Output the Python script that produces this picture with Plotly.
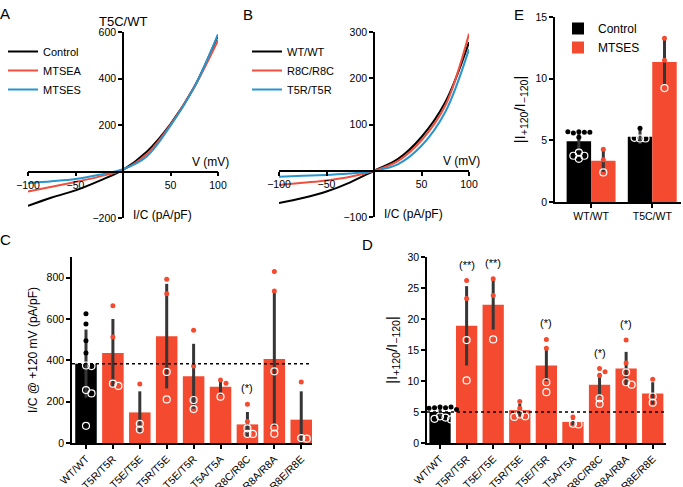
import plotly.graph_objects as go

W, H = 683, 487
RED = "#F44A2F"
LINE_RED = "#EE4F3E"
BLUE = "#2795CE"
BLACK = "#000000"
GREY = "#363636"
FONT = "Liberation Sans, Arial, sans-serif"

# ---------------- Panel A : T5C/WT I-V ----------------
volt = [-100, -75, -50, -25, 0, 25, 50, 75, 100]
a_control = [-148, -112, -81, -40, 7, 85, 204, 363, 585]
a_mtsea = [-86, -66, -45, -22, 7, 75, 201, 363, 564]
a_mtses = [-50, -42, -32, -14, 10, 65, 197, 363, 590]

# ---------------- Panel B : I-V ----------------
b_wt = [-70, -59, -45, -25, 0, 25, 73, 148, 278]
b_r8c = [-31, -26, -21, -13, 0, 21, 66, 141, 296]
b_t5r = [-13, -11, -9, -6, 0, 14, 54, 127, 263]

# ---------------- Panel C / D categories ----------------
cats = ["WT/WT", "T5R/T5R", "T5E/T5E", "T5R/T5E", "T5E/T5R",
        "T5A/T5A", "R8C/R8C", "R8A/R8A", "R8E/R8E"]

c_mean = [384, 435, 148, 517, 323, 272, 90, 406, 113]
c_sd = [165, 165, 102, 253, 157, 38, 60, 324, 137]
c_points = [
    [626, 576, 495, 435, 375, 372, 256, 240, 83],
    [664, 513, 287, 276],
    [286, 93, 65],
    [792, 722, 344, 211],
    [545, 373, 208, 164],
    [305, 289, 224],
    [188, 104, 71, 44, 44],
    [830, 735, 347, 75, 45],
    [295, 24, 21],
]
c_sig = ["", "", "", "", "", "", "(*)", "", ""]

d_mean = [5.0, 18.9, 22.3, 5.3, 12.5, 3.4, 9.4, 12.0, 8.0]
d_sd = [0.7, 6.4, 4.0, 1.0, 2.5, 0.5, 1.9, 2.7, 1.8]
d_points = [
    [5.8, 5.7, 5.7, 5.8, 5.6, 5.4, 4.3, 4.1, 3.9, 3.8],
    [26.2, 23.3, 16.6, 10.1],
    [26.5, 23.8, 16.7],
    [6.7, 5.6, 4.6, 4.3, 4.2],
    [16.7, 15.3, 9.8, 8.2],
    [4.2, 3.1, 3.0],
    [12.0, 11.5, 10.9, 7.2, 6.3],
    [16.6, 12.9, 11.4, 9.8, 9.4],
    [10.3, 7.5, 6.5],
]
d_sig = ["", "(**)", "(**)", "", "(*)", "", "(*)", "(*)", ""]

# ---------------- Panel E ----------------
e_cats = ["WT/WT", "T5C/WT"]
e_ctrl_mean = [4.92, 5.3]
e_ctrl_sd = [0.8, 0.6]
e_mtses_mean = [3.35, 11.35]
e_mtses_sd = [0.9, 1.9]
e_ctrl_points = [[5.7, 5.65, 5.6, 5.65, 5.7, 5.25, 4.0, 3.75, 3.75, 3.5],
                 [5.97, 5.15, 5.15, 5.2]]
e_mtses_points = [[4.27, 3.43, 2.4], [13.27, 11.5, 9.24]]


def xdom(p0, p1):
    return [p0 / W, p1 / W]


def ydom(top, bottom):
    return [1 - bottom / H, 1 - top / H]


def swarm(vals, ppu_y, ppu_x, sep=5.5):
    placed, offs = [], []
    for v in vals:
        y = v * ppu_y
        x = 0
        for k in [0, 1, -1, 2, -2, 3, -3, 4, -4]:
            x = k * sep
            if all((x - px) ** 2 + (y - py) ** 2 >= sep ** 2 for px, py in placed):
                break
        placed.append((x, y))
        offs.append(x / ppu_x)
    return offs


fig = go.Figure()

# ----- layout geometry -----
A_x, A_y = xdom(28, 218), ydom(32, 218)
B_x, B_y = xdom(279, 469), ydom(32, 217)
C_x, C_y = xdom(72, 312), ydom(257, 443)
D_x, D_y = xdom(427, 666), ydom(257, 443)
E_x, E_y = xdom(555, 681), ydom(17, 202)

A_xr, A_yr = [-100, 100], [-200, 600]
B_xr, B_yr = [-100, 100], [-100, 300]
C_xr, C_yr = [-0.52, 8.4], [0, 900]
D_xr, D_yr = [-0.49, 8.5], [0, 30]
E_xr, E_yr = [-0.59, 1.47], [0, 15]


def frac(v, r):
    return (v - r[0]) / (r[1] - r[0])


def pos(dom, r, v=0):
    return dom[0] + frac(v, r) * (dom[1] - dom[0])


# ----- IV traces -----
for name, ys, col in [("Control", a_control, BLACK), ("MTSEA", a_mtsea, LINE_RED),
                      ("MTSES", a_mtses, BLUE)]:
    fig.add_trace(go.Scatter(x=volt, y=ys, mode="lines", name=name,
                             line=dict(color=col, width=2, shape="spline", smoothing=1.0),
                             xaxis="x", yaxis="y", legend="legend"))
for name, ys, col in [("WT/WT", b_wt, BLACK), ("R8C/R8C", b_r8c, LINE_RED),
                      ("T5R/T5R", b_t5r, BLUE)]:
    fig.add_trace(go.Scatter(x=volt, y=ys, mode="lines", name=name,
                             line=dict(color=col, width=2, shape="spline", smoothing=1.0),
                             xaxis="x2", yaxis="y2", legend="legend2"))


def add_bar_panel(xa, ya, means, sds, points, xdomain, ydomain, xr, yr, colors):
    idx = list(range(len(means)))
    fig.add_trace(go.Bar(x=idx, y=means, marker=dict(color=colors, line=dict(width=0)),
                         error_y=dict(type="data", array=sds, color=GREY, thickness=3, width=0),
                         xaxis=xa, yaxis=ya, showlegend=False))
    ppu_y = (ydomain[1] - ydomain[0]) * H / (yr[1] - yr[0])
    ppu_x = (xdomain[1] - xdomain[0]) * W / (xr[1] - xr[0])
    for i, pts in enumerate(points):
        offs = swarm(pts, ppu_y, ppu_x)
        fx, fy, ox, oy = [], [], [], []
        for v, o in zip(pts, offs):
            if v > means[i]:
                fx.append(i + o); fy.append(v)
            else:
                ox.append(i + o); oy.append(v)
        fig.add_trace(go.Scatter(x=fx, y=fy, mode="markers", xaxis=xa, yaxis=ya,
                                 marker=dict(color=colors[i], size=5), showlegend=False))
        fig.add_trace(go.Scatter(x=ox, y=oy, mode="markers", xaxis=xa, yaxis=ya,
                                 marker=dict(symbol="circle-open", color="white", size=7,
                                             line=dict(width=1.2, color="white")),
                                 showlegend=False))


cd_colors = [BLACK] + [RED] * (len(cats) - 1)
add_bar_panel("x3", "y3", c_mean, c_sd, c_points, C_x, C_y, C_xr, C_yr, cd_colors)
add_bar_panel("x4", "y4", d_mean, d_sd, d_points, D_x, D_y, D_xr, D_yr, cd_colors)

# ----- Panel E grouped bars -----
e_idx = list(range(len(e_cats)))
ppu_yE = (E_y[1] - E_y[0]) * H / (E_yr[1] - E_yr[0])
ppu_xE = (E_x[1] - E_x[0]) * W / (E_xr[1] - E_xr[0])
for name, means, sds, pts_all, col, shift in [
        ("Control", e_ctrl_mean, e_ctrl_sd, e_ctrl_points, BLACK, -0.2),
        ("MTSES", e_mtses_mean, e_mtses_sd, e_mtses_points, RED, 0.2)]:
    fig.add_trace(go.Bar(x=e_idx, y=means, name=name, marker=dict(color=col, line=dict(width=0)),
                         error_y=dict(type="data", array=sds, color=GREY, thickness=3, width=0),
                         xaxis="x5", yaxis="y5", legend="legend3"))
    for i, pts in enumerate(pts_all):
        offs = swarm(pts, ppu_yE, ppu_xE)
        fx, fy, ox, oy = [], [], [], []
        for v, o in zip(pts, offs):
            if v > means[i]:
                fx.append(i + shift + o); fy.append(v)
            else:
                ox.append(i + shift + o); oy.append(v)
        fig.add_trace(go.Scatter(x=fx, y=fy, mode="markers", xaxis="x5", yaxis="y5",
                                 marker=dict(color=col, size=5), showlegend=False))
        fig.add_trace(go.Scatter(x=ox, y=oy, mode="markers", xaxis="x5", yaxis="y5",
                                 marker=dict(symbol="circle-open", color="white", size=7,
                                             line=dict(width=1.2, color="white")),
                                 showlegend=False))

tickfont = dict(family=FONT, size=10.5, color="black")
common = dict(showgrid=False, zeroline=False, showline=True, linecolor="black", linewidth=1.5,
              ticks="outside", ticklen=4, tickwidth=1.5, tickcolor="black", tickfont=tickfont,
              automargin=False)
cat_tickfont = dict(family=FONT, size=10.5, color="black")
legfont = dict(family=FONT, size=11, color="black")

layout = dict(
    width=W, height=H, margin=dict(l=0, r=0, t=0, b=0, autoexpand=False),
    paper_bgcolor="white", plot_bgcolor="rgba(0,0,0,0)",
    font=dict(family=FONT, size=12, color="black"),
    barmode="group", bargap=0.2, bargroupgap=0,
    xaxis=dict(domain=A_x, range=A_xr, anchor="free", position=pos(A_y, A_yr),
               tickvals=[-100, -50, 50, 100], **common),
    yaxis=dict(domain=A_y, range=A_yr, anchor="free", position=pos(A_x, A_xr),
               tickvals=[-200, 200, 400, 600], **common),
    xaxis2=dict(domain=B_x, range=B_xr, anchor="free", position=pos(B_y, B_yr),
                tickvals=[-100, -50, 50, 100], **common),
    yaxis2=dict(domain=B_y, range=B_yr, anchor="free", position=pos(B_x, B_xr),
                tickvals=[-100, 100, 200, 300], **common),
    xaxis3=dict(domain=C_x, range=C_xr, anchor="y3", tickvals=list(range(len(cats))),
                ticktext=cats, tickangle=-45, **{**common, "tickfont": cat_tickfont}),
    yaxis3=dict(domain=C_y, range=C_yr, anchor="x3", tickvals=[0, 200, 400, 600, 800],
                title=dict(text="I/C @ +120 mV (pA/pF)", font=dict(size=12), standoff=6),
                **common),
    xaxis4=dict(domain=D_x, range=D_xr, anchor="y4", tickvals=list(range(len(cats))),
                ticktext=cats, tickangle=-45, **{**common, "tickfont": cat_tickfont}),
    yaxis4=dict(domain=D_y, range=D_yr, anchor="x4", tickvals=[0, 5, 10, 15, 20, 25, 30],
                title=dict(text="|I<sub>+120</sub>/I<sub>\u2212120</sub>|", font=dict(size=15),
                           standoff=6), **common),
    xaxis5=dict(domain=E_x, range=E_xr, anchor="y5", tickvals=e_idx, ticktext=e_cats, **common),
    yaxis5=dict(domain=E_y, range=E_yr, anchor="x5", tickvals=[0, 5, 10, 15],
                title=dict(text="|I<sub>+120</sub>/I<sub>\u2212120</sub>|", font=dict(size=15),
                           standoff=6), **common),
    legend=dict(x=3 / W, y=1 - 37 / H, xanchor="left", yanchor="top",
                bgcolor="rgba(0,0,0,0)", font=legfont, tracegroupgap=0),
    legend2=dict(x=247 / W, y=1 - 37 / H, xanchor="left", yanchor="top",
                 bgcolor="rgba(0,0,0,0)", font=legfont),
    legend3=dict(x=558 / W, y=1 - 14 / H, xanchor="left", yanchor="top",
                 bgcolor="rgba(0,0,0,0)", font=dict(family=FONT, size=12, color="black")),
)
fig.update_layout(**layout)

# dotted reference lines (WT mean)
for xa, ya, m in [("x3", "y3", c_mean[0]), ("x4", "y4", d_mean[0])]:
    fig.add_shape(type="line", xref=xa + " domain", yref=ya, x0=0, x1=1, y0=m, y1=m,
                  line=dict(color="black", width=1.5, dash="dot"), layer="above")

ann = []
# significance labels
for xa, ya, pts_all, sig in [("x3", "y3", c_points, c_sig), ("x4", "y4", d_points, d_sig)]:
    for i, s in enumerate(sig):
        if s:
            ann.append(dict(x=i, y=max(pts_all[i]), xref=xa, yref=ya, text=s, showarrow=False,
                            yanchor="middle", yshift=16, font=dict(size=11)))

# IV axis titles
for xa, ya, yr in [("x", "y", A_yr), ("x2", "y2", B_yr)]:
    ann.append(dict(x=100, y=0, xref=xa, yref=ya, text="V (mV)", showarrow=False,
                    xanchor="right", yanchor="bottom", xshift=13, yshift=1, font=dict(size=12)))
    ann.append(dict(x=0, y=yr[0], xref=xa, yref=ya, text="I/C (pA/pF)", showarrow=False,
                    xanchor="left", yanchor="middle", xshift=8, yshift=3, font=dict(size=12)))
ann.append(dict(x=0, y=1 - 13 / H, xref="x", yref="paper", text="T5C/WT", showarrow=False,
                font=dict(size=13), borderpad=0))

# panel letters
for letter, px, py in [("A", 5, 14), ("B", 248, 15), ("E", 519, 15), ("C", 5, 239), ("D", 367, 245)]:
    ann.append(dict(x=px / W, y=1 - py / H, xref="paper", yref="paper", text=letter,
                    showarrow=False, xanchor="center", yanchor="middle", font=dict(size=15)))

fig.update_layout(annotations=ann)
fig.write_html("out.html", config={"displayModeBar": False},
               post_script="document.body.style.margin='0';document.body.style.padding='0';")
